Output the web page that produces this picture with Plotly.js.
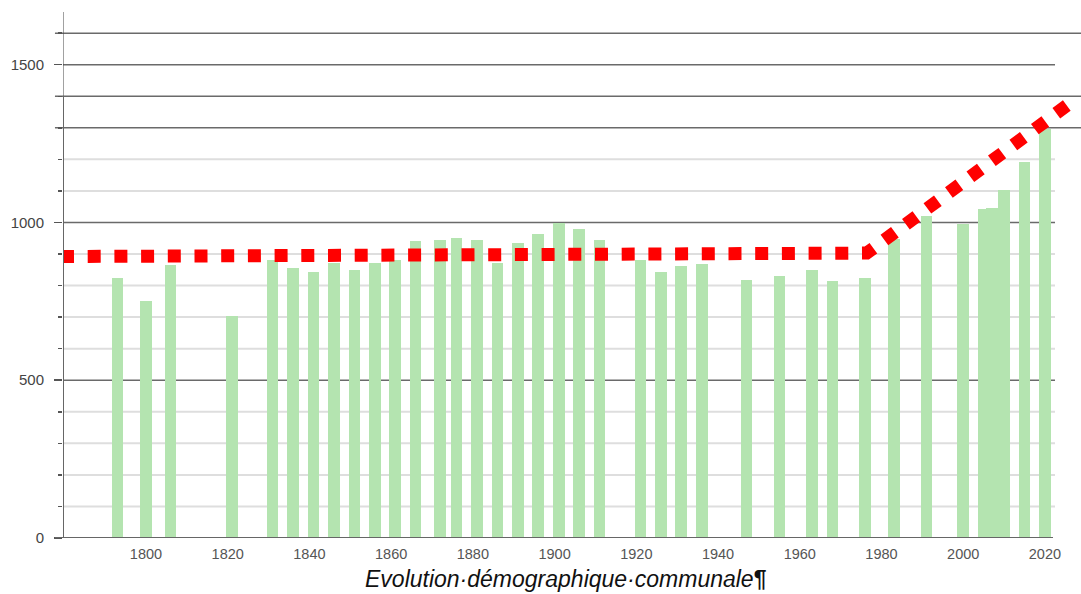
<!DOCTYPE html>
<html>
<head>
<meta charset="utf-8">
<script src="https://cdn.plot.ly/plotly-3.0.1.min.js"></script>
<style>html,body{margin:0;padding:0;background:#fff;}#chart{width:1081px;height:594px;}</style>
</head>
<body>
<div id="chart"></div>
<script>
// Census years and population
const years = [1793,1800,1806,1821,1831,1836,1841,1846,1851,1856,1861,1866,1872,1876,1881,1886,1891,1896,1901,1906,1911,1921,1926,1931,1936,1947,1955,1963,1968,1976,1983,1991,2000,2005,2007,2010,2015,2020];
const population = [825,752,865,703,881,856,844,870,849,872,881,942,946,951,946,872,936,963,997,978,946,881,844,863,867,818,829,848,815,823,947,1020,996,1043,1047,1103,1192,1297];

// Red dotted trend line
const trendYears = [1779.2,1976.4,2027.4];
const trendValues = [892,903,1390];

// Axis tick labels
const xTicks = [1800,1820,1840,1860,1880,1900,1920,1940,1960,1980,2000,2020];
const yTicks = [0,500,1000,1500];
const lightGrid = [100,200,300,400,600,700,800,900,1100,1200];
const darkGrid = [500,1000,1500];
const darkGridLong = [1300,1400,1600];

const X0 = 1779.69, X1 = 2028.83, XGRIDEND = 2022.47;
const Y0 = 0, Y1 = 1667;

const shapes = [];
lightGrid.forEach(v => shapes.push({type:'line', layer:'below', xref:'x', yref:'y', x0:X0, x1:XGRIDEND, y0:v, y1:v, line:{color:'#dedede', width:2}}));
darkGrid.forEach(v => shapes.push({type:'line', layer:'below', xref:'x', yref:'y', x0:X0, x1:XGRIDEND, y0:v, y1:v, line:{color:'#6a6a6a', width:1.5}}));
darkGridLong.forEach(v => shapes.push({type:'line', layer:'below', xref:'paper', yref:'y', x0:-0.0079, x1:1, y0:v, y1:v, line:{color:'#6a6a6a', width:1.5}}));
// x axis line
shapes.push({type:'line', layer:'above', xref:'paper', yref:'y', x0:-0.0079, x1:0.9725, y0:0, y1:0, line:{color:'#666', width:2}});
// y axis line (thin upper part, thicker lower part)
shapes.push({type:'line', layer:'above', xref:'x', yref:'y', x0:X0, x1:X0, y0:1400, y1:Y1, line:{color:'#444', width:1}});
shapes.push({type:'line', layer:'above', xref:'x', yref:'y', x0:X0, x1:X0, y0:0, y1:1400, line:{color:'#666', width:2}});

const data = [
  {type:'bar', x:years, y:population, width:2.85, marker:{color:'rgb(180,228,176)', line:{width:0}}, hoverinfo:'x+y'},
  {type:'scatter', mode:'lines', x:trendYears, y:trendValues, line:{color:'#ff0000', width:13, dash:'13px,13.7px'}, hoverinfo:'skip'}
];

const layout = {
  width:1081, height:594,
  margin:{l:63, r:0, t:12, b:56},
  paper_bgcolor:'#fff', plot_bgcolor:'#fff',
  showlegend:false,
  bargap:0,
  font:{family:'Liberation Sans, Arial, sans-serif'},
  xaxis:{range:[X0,X1], tickvals:xTicks, ticktext:xTicks.map(String), showgrid:false, zeroline:false, showline:false,
         ticks:'', tickfont:{size:14.5, color:'#555'}, ticklabelstandoff:5},
  yaxis:{range:[Y0,Y1], tickvals:yTicks, ticktext:yTicks.map(String), showgrid:false, zeroline:false, showline:false,
         ticks:'outside', ticklen:8, tickcolor:'#555', tickwidth:1.5,
         minor:{tickvals:[100,200,300,400,600,700,800,900,1100,1200,1300,1400,1600], ticks:'outside', ticklen:4, tickcolor:'#555', tickwidth:1.5},
         tickfont:{size:15, color:'#444'}, ticklabelstandoff:7},
  shapes:shapes,
  annotations:[{text:'<i>Evolution·démographique·communale</i><b>¶</b>', xref:'paper', yref:'paper', x:(566-63)/1018, y:-(579-538)/526,
                xanchor:'center', yanchor:'middle', showarrow:false, font:{size:23, color:'#111', family:'Liberation Sans, Arial, sans-serif'}}]
};

Plotly.newPlot('chart', data, layout, {displayModeBar:false, staticPlot:true});
</script>
</body>
</html>
